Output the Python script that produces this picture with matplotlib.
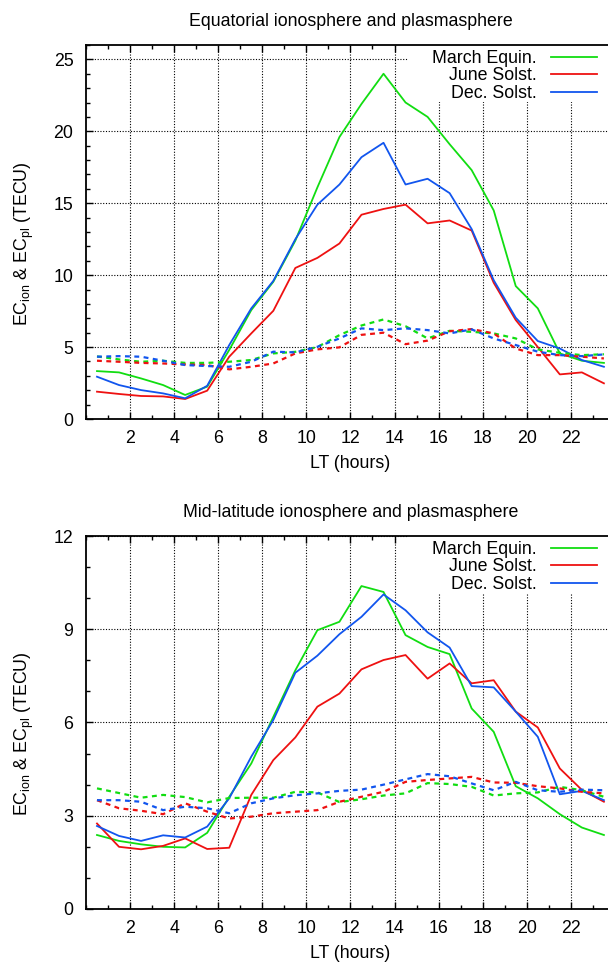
import numpy as np
import matplotlib.pyplot as plt
from matplotlib.patches import Rectangle
from matplotlib.ticker import MultipleLocator

plt.rcParams['font.family'] = ['Liberation Sans', 'DejaVu Sans']
plt.rcParams['mathtext.fontset'] = 'custom'
plt.rcParams['mathtext.rm'] = 'Liberation Sans'
plt.rcParams['mathtext.it'] = 'Liberation Sans:italic'

# local time, hourly bins centred on the half hour
lt = np.arange(0.5, 24, 1.0)

seasons = ['March Equin.', 'June Solst.', 'Dec. Solst.']
colors = ['#11dd11', '#ee1111', '#1155ee']

# equatorial: ionospheric (solid) and plasmaspheric (dashed) electron content
eq_ion_mar = [3.33, 3.24, 2.82, 2.36, 1.67, 2.25, 4.8, 7.57, 9.54, 12.4, 16.1, 19.6,
              21.9, 24.0, 22.0, 21.0, 19.1, 17.3, 14.5, 9.24, 7.69, 4.56, 4.05, 3.9]
eq_ion_jun = [1.9, 1.74, 1.6, 1.57, 1.39, 1.97, 4.33, 5.95, 7.52, 10.5, 11.2, 12.2,
              14.2, 14.6, 14.9, 13.6, 13.8, 13.1, 9.47, 6.88, 5.0, 3.1, 3.24, 2.48]
eq_ion_dec = [2.94, 2.36, 2.01, 1.78, 1.44, 2.31, 5.14, 7.69, 9.6, 12.5, 14.9, 16.3,
              18.2, 19.2, 16.3, 16.7, 15.7, 13.2, 9.65, 7.04, 5.42, 4.9, 4.1, 3.63]
eq_pl_mar = [4.35, 4.14, 3.98, 4.05, 3.9, 3.9, 3.98, 4.1, 4.56, 4.67, 5.0, 5.83,
             6.5, 6.92, 6.45, 5.6, 6.13, 6.06, 5.95, 5.6, 4.84, 4.6, 4.44, 4.5]
eq_pl_jun = [4.05, 3.98, 3.9, 3.86, 3.79, 3.75, 3.45, 3.63, 3.86, 4.56, 4.84, 4.98,
             5.85, 6.0, 5.2, 5.45, 6.1, 6.25, 5.95, 4.9, 4.44, 4.44, 4.33, 4.21]
eq_pl_dec = [4.33, 4.37, 4.33, 4.05, 3.75, 3.68, 3.63, 3.98, 4.68, 4.63, 5.02, 5.6,
             6.3, 6.18, 6.3, 6.18, 5.95, 6.23, 5.6, 5.14, 4.68, 4.44, 4.37, 4.49]

# mid-latitude
ml_ion_mar = [2.38, 2.19, 2.08, 2.0, 1.98, 2.45, 3.61, 4.68, 6.18, 7.68, 8.97, 9.24,
              10.39, 10.2, 8.81, 8.43, 8.2, 6.45, 5.7, 3.95, 3.56, 3.05, 2.62, 2.38]
ml_ion_jun = [2.75, 2.0, 1.92, 2.03, 2.27, 1.93, 1.97, 3.67, 4.79, 5.52, 6.51, 6.93,
              7.71, 8.01, 8.17, 7.41, 7.9, 7.26, 7.36, 6.35, 5.84, 4.52, 3.83, 3.45]
ml_ion_dec = [2.67, 2.35, 2.19, 2.37, 2.3, 2.65, 3.56, 4.9, 6.08, 7.6, 8.15, 8.84,
              9.4, 10.12, 9.61, 8.9, 8.41, 7.17, 7.13, 6.35, 5.54, 3.69, 3.8, 3.5]
ml_pl_mar = [3.88, 3.73, 3.58, 3.67, 3.6, 3.43, 3.57, 3.58, 3.58, 3.77, 3.75, 3.44,
             3.53, 3.65, 3.72, 4.05, 4.02, 3.93, 3.65, 3.72, 3.75, 3.93, 3.82, 3.61]
ml_pl_jun = [3.5, 3.24, 3.16, 3.05, 3.4, 3.13, 2.91, 2.97, 3.08, 3.13, 3.18, 3.45,
             3.61, 3.77, 4.09, 4.15, 4.2, 4.25, 4.07, 4.06, 3.95, 3.88, 3.77, 3.72]
ml_pl_dec = [3.5, 3.5, 3.45, 3.18, 3.29, 3.24, 3.08, 3.4, 3.56, 3.66, 3.72, 3.8,
             3.84, 4.0, 4.17, 4.34, 4.27, 4.04, 3.82, 4.09, 3.82, 3.77, 3.84, 3.82]

panels = [
    ('Equatorial ionosphere and plasmasphere', [eq_ion_mar, eq_ion_jun, eq_ion_dec],
     [eq_pl_mar, eq_pl_jun, eq_pl_dec], 26, 5),
    ('Mid-latitude ionosphere and plasmasphere', [ml_ion_mar, ml_ion_jun, ml_ion_dec],
     [ml_pl_mar, ml_pl_jun, ml_pl_dec], 12, 3),
]

fig = plt.figure(figsize=(6.08, 9.63), dpi=100)
boxes = [[0.1414, 0.5649, 0.870, 0.3884], [0.1414, 0.0561, 0.870, 0.3873]]

for box, (title, ion, pl, ymax, ystep) in zip(boxes, panels):
    ax = fig.add_axes(box)
    for vals, c, name in zip(ion, colors, seasons):
        ax.plot(lt, vals, color=c, lw=1.3, label=name)
    for vals, c in zip(pl, colors):
        ax.plot(lt, vals, color=c, lw=1.6, linestyle=(0, (2.2, 2.0)))

    ax.set_xlim(0, 24)
    ax.set_ylim(0, ymax)
    ax.set_xticks(np.arange(2, 24, 2))
    ax.xaxis.set_minor_locator(MultipleLocator(1))
    ax.set_yticks(np.arange(0, ymax + 0.1, ystep))
    ax.yaxis.set_minor_locator(MultipleLocator(1))
    ax.tick_params(which='both', direction='in', top=True, right=True,
                   labelsize=12.8, width=1.0)
    ax.tick_params(which='major', length=5)
    ax.tick_params(which='minor', length=3)
    ax.tick_params(axis='y', pad=9)
    ax.tick_params(axis='x', pad=8)
    ax.grid(True, which='major', color='black', linestyle=(0, (1, 1.5)), lw=0.8)
    for sp in ax.spines.values():
        sp.set_linewidth(1.3)

    # blank area behind the key hides the grid there
    ax.add_patch(Rectangle((0.6087, 0.8476), 0.40, 0.16, transform=ax.transAxes,
                           facecolor='white', edgecolor='none', zorder=1.8))
    ax.legend(loc='upper right', bbox_to_anchor=(0.966, 0.987), frameon=False,
              markerfirst=False, fontsize=12.8, handlelength=2.6, handletextpad=0.8,
              borderpad=0, borderaxespad=0, labelspacing=0.03)

    ax.set_title(title, fontsize=12.8, pad=14)
    ax.set_xlabel('LT (hours)', fontsize=12.8, labelpad=6)
    ax.set_ylabel(r'EC$_\mathrm{ion}$ & EC$_\mathrm{pl}$ (TECU)', fontsize=12.8)
    ax.yaxis.set_label_coords(-0.095, 0.47)

fig.savefig('out.png', dpi=100)
